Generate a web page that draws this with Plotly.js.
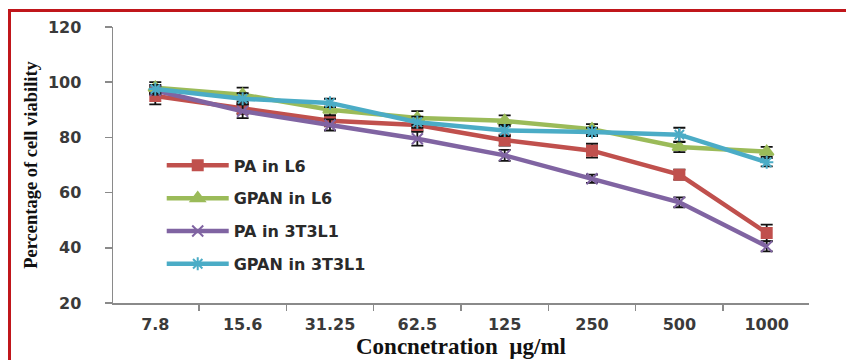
<!DOCTYPE html>
<html><head><meta charset="utf-8">
<script src="https://cdn.plot.ly/plotly-3.0.1.min.js"></script>
<style>
body{margin:0;background:#fff;}
#frame{position:absolute;left:8px;top:9px;width:846px;height:360px;border-top:3px solid #c0161b;border-left:3px solid #c0161b;pointer-events:none;z-index:10;}
#chart{position:absolute;left:0;top:0;width:846px;height:360px;}
</style></head>
<body>
<div id="chart"></div>
<div id="frame"></div>
<script>
var concentrations = ["7.8","15.6","31.25","62.5","125","250","500","1000"];
var paL6 = [95, 90.5, 86, 84.5, 79, 75.2, 66.5, 45.4];
var paL6Err = [3, 2, 2, 2, 2, 2.5, 1.8, 3];
var gpanL6 = [98, 95.5, 90, 87, 86, 83, 76.5, 74.8];
var gpanL6Err = [2, 2.5, 2, 2.5, 2, 1.8, 1.8, 1.8];
var pa3T3 = [97, 89.5, 84.5, 79.5, 73.5, 65, 56.5, 40.5];
var pa3T3Err = [1.5, 2.5, 2, 2.5, 2, 1.5, 1.8, 1.8];
var gpan3T3 = [97.5, 94, 92.5, 85.5, 82.5, 82, 81, 71];
var gpan3T3Err = [1.5, 2, 1.5, 2, 2, 1.5, 2.5, 1.5];
var seriesNames = ["PA in L6", "GPAN in L6", "PA in 3T3L1", "GPAN in 3T3L1"];

function mk(name, y, err, color, symbol, msize){
  return {
    type:'scatter', mode:'lines+markers', name:name, x:concentrations, y:y,
    legendgroup:name,
    line:{color:color, width:4.5},
    marker:{color:color, symbol:symbol, size:msize, line:{color:color, width:2}},
    error_y:{type:'data', array:err, visible:true, color:'#111', thickness:1.8, width:6}
  };
}
var data = [
  mk(seriesNames[0], paL6, paL6Err, '#C0504D', 'square', 10),
  mk(seriesNames[1], gpanL6, gpanL6Err, '#9BBB59', 'triangle-up', 12),
  mk(seriesNames[2], pa3T3, pa3T3Err, '#8064A2', 'x-thin-open', 11),
  mk(seriesNames[3], gpan3T3, gpan3T3Err, '#4BACC6', 'asterisk-open', 11)
];
var tickFont = {family:'DejaVu Sans', size:16, color:'#3a3a3a', weight:'bold'};
var layout = {
  width:846, height:360,
  margin:{l:113, r:37, t:27, b:57},
  paper_bgcolor:'#fff', plot_bgcolor:'#fff',
  font:{family:'DejaVu Sans', size:16, color:'#333'},
  showlegend:true,
  legend:{x:0.07, y:0.56, xanchor:'left', yanchor:'top', bgcolor:'rgba(0,0,0,0)',
    traceorder:'grouped', tracegroupgap:9, itemwidth:62,
    font:{family:'DejaVu Sans', size:16, color:'#2a2a2a', weight:'bold'}},
  xaxis:{type:'category', showgrid:false, zeroline:false, showline:true, linecolor:'#8a8a8a', linewidth:1.5,
    ticks:'outside', tickson:'boundaries', ticklen:6, tickcolor:'#8a8a8a', tickwidth:1.5,
    tickfont:tickFont, ticklabelstandoff:6,
    title:{text:'Concnetration  µg/ml', font:{family:'Liberation Serif', size:23, color:'#111', weight:'bold'}, standoff:4}},
  yaxis:{range:[20,120], tickvals:[20,40,60,80,100,120], showgrid:false, zeroline:false, showline:true,
    linecolor:'#8a8a8a', linewidth:1.5, ticks:'outside', ticklen:7, tickcolor:'#8a8a8a', tickwidth:1.5,
    tickfont:tickFont, ticklabelstandoff:20,
    title:{text:'Percentage of cell viability', font:{family:'Liberation Serif', size:18.5, color:'#111', weight:'bold'}, standoff:5}}
};
Plotly.newPlot('chart', data, layout, {displayModeBar:false, staticPlot:true});
</script>
</body></html>
